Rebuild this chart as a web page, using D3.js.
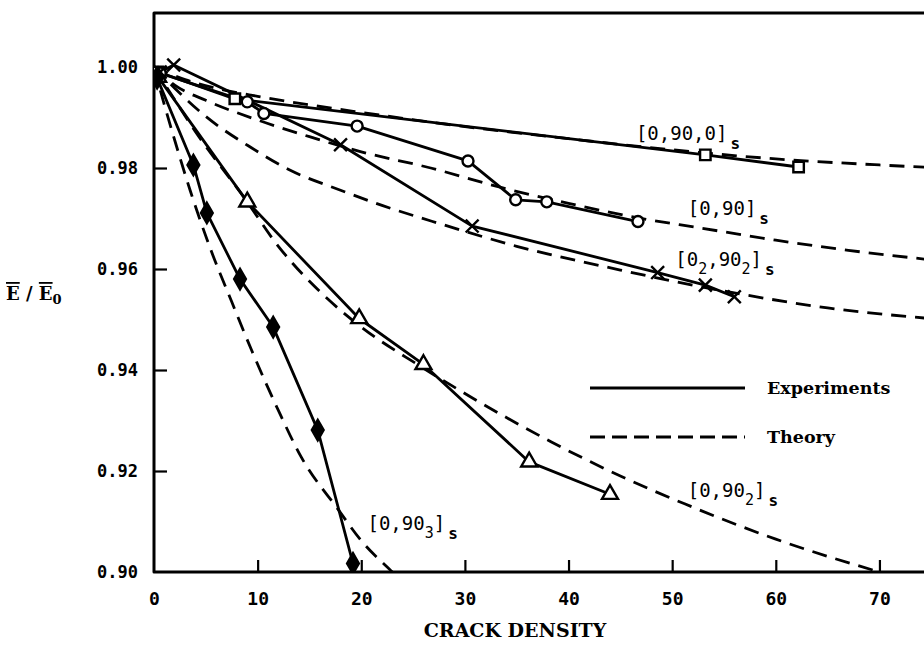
<!DOCTYPE html>
<html>
<head>
<meta charset="utf-8">
<script src="https://cdn.jsdelivr.net/npm/d3@7"></script>
<style>
  html, body { margin: 0; padding: 0; background: #fff; }
  svg { display: block; }
</style>
</head>
<body>
<svg id="chart" width="924" height="648"></svg>
<script>
// Axis ticks
const xTicks = [0, 10, 20, 30, 40, 50, 60, 70];
const yTicks = [0.90, 0.92, 0.94, 0.96, 0.98, 1.00];

// Experimental stiffness ratios vs crack density
const exp0900X = [0.4, 7.8, 53.2, 62.2];
const exp0900Y = [0.9990, 0.9937, 0.9826, 0.9802];

const exp090X = [0.6, 9.0, 10.6, 19.6, 30.3, 34.9, 37.9, 46.7];
const exp090Y = [0.9988, 0.9931, 0.9908, 0.9883, 0.9814, 0.9737, 0.9733, 0.9694];

const exp0290X = [0.6, 1.9, 18.0, 30.7, 48.6, 53.2, 56.0];
const exp0290Y = [0.9990, 1.0004, 0.9846, 0.9685, 0.9593, 0.9568, 0.9545];

const exp0902X = [0.4, 9.0, 19.8, 26.0, 36.2, 44.0];
const exp0902Y = [0.9980, 0.9733, 0.9502, 0.9411, 0.9218, 0.9154];

const exp0903X = [0.3, 3.8, 5.1, 8.3, 11.5, 15.8, 19.2];
const exp0903Y = [0.9978, 0.9806, 0.9711, 0.9580, 0.9485, 0.9281, 0.9017];

// Theoretical predictions
const th0900X = [0, 3, 6, 10, 15, 20, 30, 40, 50, 60, 70, 76];
const th0900Y = [1.0, 0.9975, 0.9958, 0.9942, 0.9925, 0.9910, 0.9882, 0.9858, 0.9836, 0.9818, 0.9806, 0.9800];

const th090X = [0, 2, 5, 10, 15, 20, 26.7, 33.2, 40, 46, 52.8, 60, 67, 76];
const th090Y = [1.0, 0.9964, 0.9934, 0.9895, 0.9862, 0.9832, 0.9800, 0.9763, 0.9730, 0.9704, 0.9681, 0.9657, 0.9637, 0.9616];

const th0290X = [0, 2, 5, 9.4, 13, 18, 22, 27.7, 35, 45, 52.5, 56.7, 65, 76];
const th0290Y = [1.0, 0.9958, 0.9902, 0.9840, 0.9797, 0.9756, 0.9726, 0.9689, 0.9645, 0.9598, 0.9566, 0.9550, 0.9523, 0.9500];

const th0902X = [0, 2, 4, 6, 8.4, 12, 16.8, 20, 25.5, 29.3, 38.3, 45, 51.2, 60, 70, 72];
const th0902Y = [1.0, 0.9935, 0.9872, 0.9815, 0.9750, 0.9645, 0.9540, 0.9485, 0.9410, 0.9362, 0.9258, 0.9190, 0.9135, 0.9065, 0.9000, 0.8988];

const th0903X = [0, 1, 2, 3.5, 5.5, 7.5, 9.4, 12, 14.2, 17.8, 20, 23, 24];
const th0903Y = [1.0, 0.9925, 0.9855, 0.9755, 0.9637, 0.9535, 0.9440, 0.9320, 0.9228, 0.9123, 0.9062, 0.9000, 0.8980];

// Layup labels
const labelText = [
  { main: "[0,90,0]", sub: "s" },
  { main: "[0,90]", sub: "s" },
  { main: "[0", sub2: "2", mid: ",90", sub3: "2", end: "]", sub: "s" },
  { main: "[0,90", sub2: "2", end: "]", sub: "s" },
  { main: "[0,90", sub2: "3", end: "]", sub: "s" }
];
const labelAtX = [46.5, 51.5, 50.3, 51.5, 20.6];
const labelAtY = [0.9856, 0.9706, 0.9605, 0.9148, 0.9083];

const zip = (xs, ys) => xs.map((v, i) => ({ x: v, y: ys[i] }));

const experiments = [
  { pts: zip(exp0900X, exp0900Y), marker: "square" },
  { pts: zip(exp090X, exp090Y), marker: "circle" },
  { pts: zip(exp0290X, exp0290Y), marker: "cross" },
  { pts: zip(exp0902X, exp0902Y), marker: "triangle" },
  { pts: zip(exp0903X, exp0903Y), marker: "diamond" }
];
const theories = [
  zip(th0900X, th0900Y),
  zip(th090X, th090Y),
  zip(th0290X, th0290Y),
  zip(th0902X, th0902Y),
  zip(th0903X, th0903Y)
];

const svg = d3.select("#chart");
const W = 924, H = 648;

const x = d3.scaleLinear().domain([0, 74.3]).range([154, 924]);
const y = d3.scaleLinear().domain([0.90, 1.00]).range([572, 67]);
const yTop = 1.0107;

const monoFont = "'DejaVu Sans Mono', 'Liberation Mono', monospace";
const serifFont = "'DejaVu Serif', 'Liberation Serif', serif";

// clip region for the plotting area
svg.append("defs").append("clipPath").attr("id", "plotClip")
  .append("rect")
  .attr("x", x(0)).attr("y", y(yTop))
  .attr("width", W - x(0)).attr("height", y(0.90) - y(yTop));

// axes
const xAxis = d3.axisBottom(x).tickValues(xTicks).tickSize(-12).tickPadding(20)
  .tickFormat(d3.format("d"));
const yAxis = d3.axisLeft(y).tickValues(yTicks).tickSize(-13).tickPadding(16)
  .tickFormat(d3.format(".2f"));

const gx = svg.append("g").attr("transform", `translate(0,${y(0.90)})`).call(xAxis);
const gy = svg.append("g").attr("transform", `translate(${x(0)},0)`).call(yAxis);
[gx, gy].forEach(g => {
  g.select(".domain").remove();
  g.selectAll(".tick line").attr("stroke", "#000").attr("stroke-width", 2.2);
  g.selectAll(".tick text").attr("fill", "#000")
    .style("font-family", monoFont).style("font-weight", "bold").style("font-size", "17px");
});
gx.selectAll(".tick text").style("font-size", "18px");
gx.selectAll(".tick").filter(d => d === 0).select("line").remove();
gy.selectAll(".tick").filter(d => d === 0.90).select("line").remove();

// frame: left axis, top border and bottom axis
svg.append("path")
  .attr("d", `M${W + 5},${y(0.90)} H${x(0)} V${y(yTop)} H${W + 5}`)
  .attr("fill", "none").attr("stroke", "#000").attr("stroke-width", 3)
  .attr("stroke-linejoin", "round");

const plot = svg.append("g").attr("clip-path", "url(#plotClip)");

const lineGen = d3.line().x(d => x(d.x)).y(d => y(d.y));
const curveGen = d3.line().x(d => x(d.x)).y(d => y(d.y)).curve(d3.curveMonotoneX);

// theory curves (dashed)
plot.selectAll("path.theory").data(theories).join("path")
  .attr("class", "theory")
  .attr("d", curveGen)
  .attr("fill", "none").attr("stroke", "#000").attr("stroke-width", 2.8)
  .attr("stroke-dasharray", "15,9");

// experimental polylines (solid)
plot.selectAll("path.exp").data(experiments).join("path")
  .attr("class", "exp")
  .attr("d", s => lineGen(s.pts))
  .attr("fill", "none").attr("stroke", "#000").attr("stroke-width", 2.8)
  .attr("stroke-linejoin", "round");

// markers
const symbolFor = {
  square: d3.symbol(d3.symbolSquare, 110),
  circle: d3.symbol(d3.symbolCircle, 95),
  triangle: d3.symbol(d3.symbolTriangle, 110),
  diamond: d3.symbol(d3.symbolDiamond, 120),
  cross: d3.symbol(d3.symbolX, 110)
};
experiments.forEach(s => {
  plot.append("g").selectAll("path").data(s.pts).join("path")
    .attr("transform", d => `translate(${x(d.x)},${y(d.y)})`)
    .attr("d", symbolFor[s.marker]())
    .attr("fill", s.marker === "diamond" ? "#000" : (s.marker === "cross" ? "none" : "#fff"))
    .attr("stroke", "#000")
    .attr("stroke-width", 2.4);
});

// layup labels
labelText.forEach((lb, i) => {
  const t = svg.append("text")
    .attr("x", x(labelAtX[i])).attr("y", y(labelAtY[i]))
    .style("font-family", monoFont).style("font-size", "19px").attr("fill", "#000");
  t.append("tspan").text(lb.main);
  if (lb.sub2) t.append("tspan").attr("dy", 8).style("font-size", "15px").text(lb.sub2);
  if (lb.mid) t.append("tspan").attr("dy", -8).text(lb.mid);
  if (lb.sub3) t.append("tspan").attr("dy", 8).style("font-size", "15px").text(lb.sub3);
  if (lb.end) t.append("tspan").attr("dy", -8).text(lb.end);
  t.append("tspan").attr("dy", 9).attr("dx", 3).style("font-size", "16px")
    .style("font-weight", "bold").text(lb.sub);
});

// legend
const legend = svg.append("g");
const legendRows = [
  { label: "Experiments", dash: null, yy: 388 },
  { label: "Theory", dash: "15,7", yy: 437 }
];
legendRows.forEach(r => {
  legend.append("line")
    .attr("x1", 590).attr("x2", 745).attr("y1", r.yy).attr("y2", r.yy)
    .attr("stroke", "#000").attr("stroke-width", 2.8)
    .attr("stroke-dasharray", r.dash);
  legend.append("text")
    .attr("x", 767).attr("y", r.yy).attr("dy", "0.35em")
    .style("font-family", serifFont).style("font-weight", "bold").style("font-size", "17.5px")
    .text(r.label);
});

// axis titles
svg.append("text")
  .attr("x", 515).attr("y", 637)
  .attr("text-anchor", "middle")
  .style("font-family", serifFont).style("font-weight", "bold").style("font-size", "19px")
  .text("CRACK DENSITY");

const yTitle = svg.append("text")
  .attr("x", 6).attr("y", 300)
  .style("font-family", serifFont).style("font-weight", "bold").style("font-size", "18px");
yTitle.append("tspan").style("text-decoration", "overline").text("E");
yTitle.append("tspan").text(" / ");
yTitle.append("tspan").style("text-decoration", "overline").text("E");
yTitle.append("tspan").attr("dy", 4).style("font-size", "13px").text("0");
</script>
</body>
</html>
